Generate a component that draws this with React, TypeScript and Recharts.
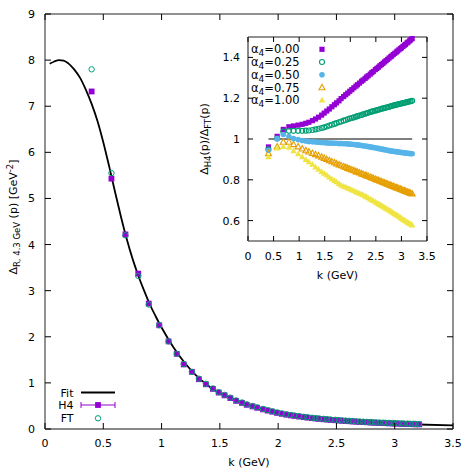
import { ComposedChart, Line, Scatter, XAxis, YAxis, ReferenceArea, ReferenceLine } from "recharts";

// lattice momenta (GeV)
const kValues = [
  0.40, 0.57, 0.69, 0.80, 0.89, 0.98, 1.06, 1.13, 1.19, 1.26,
  1.32, 1.38, 1.44, 1.49, 1.54, 1.59, 1.64, 1.69, 1.73, 1.78,
  1.82, 1.87, 1.91, 1.95, 1.99, 2.03, 2.07, 2.11, 2.14, 2.18,
  2.22, 2.25, 2.29, 2.32, 2.35, 2.39, 2.42, 2.45, 2.49, 2.52,
  2.55, 2.58, 2.61, 2.64, 2.67, 2.70, 2.73, 2.76, 2.79, 2.81,
  2.84, 2.87, 2.90, 2.92, 2.95, 2.98, 3.00, 3.03, 3.06, 3.08,
  3.11, 3.13, 3.16, 3.18, 3.21,
];

const h4Values = [
  7.32, 5.43, 4.22, 3.37, 2.72, 2.25, 1.90, 1.63, 1.40, 1.24,
  1.08, 0.97, 0.87, 0.79, 0.73, 0.67, 0.61, 0.565, 0.525, 0.49,
  0.46, 0.425, 0.40, 0.375, 0.35, 0.33, 0.31, 0.295, 0.283, 0.27,
  0.257, 0.247, 0.236, 0.228, 0.22, 0.211, 0.204, 0.197, 0.19, 0.184,
  0.178, 0.173, 0.168, 0.163, 0.158, 0.154, 0.15, 0.146, 0.142, 0.139,
  0.135, 0.132, 0.129, 0.126, 0.123, 0.12, 0.118, 0.115, 0.112, 0.11,
  0.108, 0.106, 0.104, 0.102, 0.10,
];

const ftValues = [
  7.80, 5.55, 4.20, 3.32, 2.70, 2.25, 1.90, 1.63, 1.41, 1.24,
  1.09, 0.98, 0.88, 0.80, 0.74, 0.68, 0.62, 0.575, 0.535, 0.50,
  0.47, 0.435, 0.41, 0.385, 0.36, 0.34, 0.32, 0.305, 0.292, 0.279,
  0.266, 0.256, 0.245, 0.237, 0.229, 0.22, 0.213, 0.206, 0.199, 0.193,
  0.187, 0.182, 0.177, 0.172, 0.167, 0.163, 0.159, 0.155, 0.151, 0.148,
  0.144, 0.141, 0.138, 0.135, 0.132, 0.129, 0.127, 0.124, 0.121, 0.119,
  0.117, 0.115, 0.113, 0.111, 0.109,
];

const fitK = [
  0.04, 0.08, 0.12, 0.16, 0.20, 0.25, 0.30, 0.35, 0.40, 0.45, 0.50, 0.55,
  0.60, 0.65, 0.70, 0.75, 0.80, 0.85, 0.90, 0.95, 1.00, 1.10, 1.20, 1.30,
  1.40, 1.50, 1.60, 1.80, 2.00, 2.20, 2.40, 2.60, 2.80, 3.00, 3.20, 3.50,
];
const fitValues = [
  7.92, 7.97, 8.00, 7.99, 7.93, 7.80, 7.62, 7.36, 7.05, 6.68, 6.22, 5.70,
  5.15, 4.62, 4.13, 3.70, 3.33, 3.00, 2.70, 2.44, 2.20, 1.78, 1.43, 1.15,
  0.94, 0.78, 0.655, 0.475, 0.35, 0.265, 0.21, 0.17, 0.14, 0.115, 0.098, 0.078,
];

// ratio Delta_H4 / Delta_FT for alpha_4 = 0.00 ... 1.00
const ratioA000 = [
  0.961, 1.013, 1.047, 1.060, 1.064, 1.068, 1.072, 1.077, 1.082, 1.090,
  1.098, 1.107, 1.117, 1.127, 1.137, 1.147, 1.158, 1.168, 1.177, 1.187,
  1.198, 1.208, 1.217, 1.225, 1.234, 1.242, 1.251, 1.259, 1.266, 1.274,
  1.283, 1.289, 1.297, 1.304, 1.310, 1.318, 1.325, 1.331, 1.340, 1.346,
  1.352, 1.359, 1.365, 1.371, 1.378, 1.384, 1.390, 1.397, 1.403, 1.407,
  1.414, 1.420, 1.426, 1.431, 1.437, 1.443, 1.447, 1.454, 1.460, 1.464,
  1.471, 1.475, 1.481, 1.486, 1.492,
];
const ratioA025 = [
  0.950, 1.002, 1.036, 1.040, 1.040, 1.040, 1.040, 1.041, 1.042, 1.044,
  1.047, 1.050, 1.054, 1.057, 1.061, 1.066, 1.070, 1.074, 1.078, 1.082,
  1.086, 1.090, 1.093, 1.097, 1.100, 1.103, 1.106, 1.109, 1.112, 1.115,
  1.118, 1.121, 1.124, 1.126, 1.129, 1.132, 1.134, 1.137, 1.139, 1.141,
  1.143, 1.146, 1.148, 1.150, 1.152, 1.154, 1.156, 1.158, 1.160, 1.162,
  1.164, 1.166, 1.168, 1.169, 1.171, 1.173, 1.174, 1.176, 1.178, 1.179,
  1.181, 1.182, 1.184, 1.185, 1.187,
];
const ratioA050 = [
  0.945, 1.002, 1.022, 1.012, 1.002, 0.997, 0.993, 0.990, 0.988, 0.986,
  0.985, 0.984, 0.983, 0.982, 0.981, 0.980, 0.980, 0.979, 0.979, 0.978,
  0.978, 0.977, 0.977, 0.976, 0.975, 0.974, 0.973, 0.972, 0.971, 0.970,
  0.968, 0.967, 0.966, 0.964, 0.963, 0.961, 0.960, 0.958, 0.957, 0.955,
  0.954, 0.952, 0.951, 0.949, 0.948, 0.946, 0.945, 0.943, 0.942, 0.941,
  0.940, 0.939, 0.938, 0.937, 0.936, 0.935, 0.934, 0.933, 0.932, 0.931,
  0.930, 0.930, 0.929, 0.929, 0.928,
];
const ratioA075 = [
  0.929, 0.962, 0.985, 0.985, 0.973, 0.962, 0.952, 0.943, 0.937, 0.930,
  0.924, 0.918, 0.912, 0.906, 0.900, 0.894, 0.889, 0.884, 0.879, 0.874,
  0.870, 0.865, 0.861, 0.857, 0.853, 0.849, 0.845, 0.841, 0.838, 0.834,
  0.830, 0.827, 0.823, 0.820, 0.817, 0.813, 0.810, 0.807, 0.803, 0.800,
  0.797, 0.794, 0.791, 0.788, 0.785, 0.782, 0.779, 0.776, 0.773, 0.771,
  0.768, 0.765, 0.762, 0.760, 0.757, 0.754, 0.752, 0.749, 0.746, 0.744,
  0.741, 0.739, 0.736, 0.734, 0.731,
];
const ratioA100 = [
  0.912, 0.955, 0.962, 0.958, 0.942, 0.927, 0.912, 0.898, 0.887, 0.875,
  0.862, 0.851, 0.840, 0.831, 0.822, 0.813, 0.804, 0.796, 0.789, 0.781,
  0.774, 0.768, 0.764, 0.759, 0.755, 0.750, 0.746, 0.741, 0.738, 0.733,
  0.729, 0.726, 0.720, 0.716, 0.711, 0.705, 0.701, 0.697, 0.691, 0.686,
  0.682, 0.678, 0.673, 0.669, 0.664, 0.660, 0.655, 0.651, 0.646, 0.643,
  0.638, 0.633, 0.628, 0.625, 0.620, 0.615, 0.611, 0.606, 0.601, 0.598,
  0.593, 0.590, 0.585, 0.582, 0.577,
];

const mainXTicks = [0, 0.5, 1, 1.5, 2, 2.5, 3, 3.5];
const mainYTicks = [0, 1, 2, 3, 4, 5, 6, 7, 8, 9];
const insetYTicks = [0.6, 0.8, 1, 1.2, 1.4];
const alphaLabels = ["0.00", "0.25", "0.50", "0.75", "1.00"];

const PURPLE = "#9400d3";
const GREEN = "#009e73";
const BLUE = "#56b4e9";
const ORANGE = "#e69f00";
const YELLOW = "#f0e442";
const FONT = "'DejaVu Sans', sans-serif";

const MAIN = { left: 45, right: 453, top: 14, bottom: 429 };
const INSET = { left: 248, right: 427, top: 37, bottom: 241 };

const pairs = (ys: number[], xs = kValues) => xs.map((k, i) => ({ k, v: ys[i] }));
const fitData = pairs(fitValues, fitK);
const h4Data = pairs(h4Values);
const ftData = pairs(ftValues);
const ratioSeries = [ratioA000, ratioA025, ratioA050, ratioA075, ratioA100].map((r) => pairs(r));

// markers
const Square = ({ cx, cy, size, color }: any) => (
  <rect x={cx - size / 2} y={cy - size / 2} width={size} height={size} fill={color} />
);
const Tri = ({ cx, cy, size, color, open }: any) => {
  const h = size * 0.9;
  const d = `M${cx},${cy - h * 0.6} L${cx + size / 2},${cy + h * 0.4} L${cx - size / 2},${cy + h * 0.4} Z`;
  return open ? <path d={d} fill="none" stroke={color} strokeWidth={1.1} /> : <path d={d} fill={color} />;
};

const markers = [
  (p: any) => <Square cx={p.cx} cy={p.cy} size={5.2} color={PURPLE} />,
  (p: any) => <circle cx={p.cx} cy={p.cy} r={2.5} fill="none" stroke={GREEN} strokeWidth={1.1} />,
  (p: any) => <circle cx={p.cx} cy={p.cy} r={2.8} fill={BLUE} />,
  (p: any) => <Tri cx={p.cx} cy={p.cy} size={6} color={ORANGE} open />,
  (p: any) => <Tri cx={p.cx} cy={p.cy} size={6.4} color={YELLOW} />,
];

const txt = { fontSize: 11, fontFamily: FONT, fill: "#000" };

function MainXTick({ x, payload }: any) {
  return (
    <g>
      <line x1={x} x2={x} y1={MAIN.bottom} y2={MAIN.bottom - 6} stroke="#000" />
      <line x1={x} x2={x} y1={MAIN.top} y2={MAIN.top + 6} stroke="#000" />
      <text x={x} y={MAIN.bottom + 18} textAnchor="middle" {...txt}>{payload.value}</text>
    </g>
  );
}
function MainYTick({ y, payload }: any) {
  return (
    <g>
      <line x1={MAIN.left} x2={MAIN.left + 6} y1={y} y2={y} stroke="#000" />
      <line x1={MAIN.right} x2={MAIN.right - 6} y1={y} y2={y} stroke="#000" />
      <text x={MAIN.left - 10} y={y + 4} textAnchor="end" {...txt}>{payload.value}</text>
    </g>
  );
}
function InsetXTick({ x, payload }: any) {
  return (
    <g>
      <line x1={x} x2={x} y1={INSET.bottom} y2={INSET.bottom - 5} stroke="#000" />
      <line x1={x} x2={x} y1={INSET.top} y2={INSET.top + 5} stroke="#000" />
      <text x={x} y={INSET.bottom + 18.5} textAnchor="middle" {...txt}>{payload.value}</text>
    </g>
  );
}
function InsetYTick({ y, payload }: any) {
  return (
    <g>
      <line x1={INSET.left} x2={INSET.left + 5} y1={y} y2={y} stroke="#000" />
      <line x1={INSET.right} x2={INSET.right - 5} y1={y} y2={y} stroke="#000" />
      <text x={INSET.left - 8} y={y + 4} textAnchor="end" {...txt}>{payload.value}</text>
    </g>
  );
}

export default function App() {
  return (
    <div style={{ position: "absolute", left: 0, top: 0, width: 472, height: 472, background: "#fff" }}>
      <div style={{ position: "absolute", left: 0, top: 0 }}>
        <ComposedChart width={472} height={472} margin={{ top: MAIN.top, right: 472 - MAIN.right, bottom: 0, left: 0 }}>
          <XAxis dataKey="k" type="number" domain={[0, 3.5]} ticks={mainXTicks} interval={0}
            axisLine={false} tickLine={false} height={472 - MAIN.bottom} tick={<MainXTick />} />
          <YAxis type="number" domain={[0, 9]} ticks={mainYTicks} interval={0}
            axisLine={false} tickLine={false} width={MAIN.left} tick={<MainYTick />} />
          <ReferenceArea x1={0} x2={3.5} y1={0} y2={9} fill="none" fillOpacity={0} stroke="#222" strokeWidth={1} />
          <ReferenceLine y={0} stroke="#888" strokeWidth={2} />
          <Line data={fitData} dataKey="v" type="monotone" stroke="#000" strokeWidth={1.8} dot={false} isAnimationActive={false} />
          <Scatter data={h4Data} dataKey="v" isAnimationActive={false}
            shape={(p: any) => <Square cx={p.cx} cy={p.cy} size={5.8} color={PURPLE} />} />
          <Scatter data={ftData} dataKey="v" isAnimationActive={false}
            shape={(p: any) => <circle cx={p.cx} cy={p.cy} r={2.7} fill="none" stroke={GREEN} strokeWidth={1} />} />
        </ComposedChart>
      </div>

      <div style={{ position: "absolute", left: 0, top: 0 }}>
        <ComposedChart width={440} height={285} margin={{ top: INSET.top, right: 440 - INSET.right, bottom: 0, left: 0 }}>
          <XAxis dataKey="k" type="number" domain={[0, 3.5]} ticks={mainXTicks} interval={0}
            axisLine={false} tickLine={false} height={285 - INSET.bottom} tick={<InsetXTick />} />
          <YAxis type="number" domain={[0.5, 1.5]} ticks={insetYTicks} interval={0}
            axisLine={false} tickLine={false} width={INSET.left} tick={<InsetYTick />} />
          <ReferenceArea x1={0} x2={3.5} y1={0.5} y2={1.5} fill="#fff" fillOpacity={0} stroke="#222" strokeWidth={1} />
          <ReferenceLine x={0} stroke="#888" strokeWidth={2} />
          <ReferenceLine segment={[{ x: kValues[0], y: 1 }, { x: kValues[kValues.length - 1], y: 1 }]} stroke="#000" strokeWidth={1} />
          {ratioSeries.map((d, i) => (
            <Scatter key={i} data={d} dataKey="v" isAnimationActive={false} shape={markers[i]} />
          ))}
        </ComposedChart>
      </div>

      <svg width={472} height={472} style={{ position: "absolute", left: 0, top: 0, pointerEvents: "none" }}>
        {/* main axis titles */}
        <text x={MAIN.left + (MAIN.right - MAIN.left) / 2} y={466} textAnchor="middle" {...txt}>k (GeV)</text>
        <text transform="translate(17,217) rotate(-90)" textAnchor="middle" {...txt}>
          Δ<tspan fontSize={8.5} dy={3}>R, 4.3 GeV</tspan>
          <tspan dy={-3}> (p) [GeV</tspan>
          <tspan fontSize={8.5} dy={-4}>-2</tspan>
          <tspan dy={4}>]</tspan>
        </text>

        {/* inset axis titles */}
        <text x={(INSET.left + INSET.right) / 2} y={279} textAnchor="middle" {...txt}>k (GeV)</text>
        <text transform="translate(208,139) rotate(-90)" textAnchor="middle" {...txt}>
          Δ<tspan fontSize={8.5} dy={3}>H4</tspan>
          <tspan dy={-3}>(p)/Δ</tspan>
          <tspan fontSize={8.5} dy={3}>FT</tspan>
          <tspan dy={-3}>(p)</tspan>
        </text>

        {/* main legend */}
        <text x={73.5} y={396.5} textAnchor="end" {...txt}>Fit</text>
        <line x1={81} x2={115} y1={392.5} y2={392.5} stroke="#000" strokeWidth={1.8} />
        <text x={73.5} y={409} textAnchor="end" {...txt}>H4</text>
        <line x1={81} x2={115} y1={405} y2={405} stroke={PURPLE} strokeWidth={1} />
        <line x1={81} x2={81} y1={402} y2={408} stroke={PURPLE} strokeWidth={1} />
        <line x1={115} x2={115} y1={402} y2={408} stroke={PURPLE} strokeWidth={1} />
        <Square cx={98} cy={405} size={5.8} color={PURPLE} />
        <text x={73.5} y={422.3} textAnchor="end" {...txt}>FT</text>
        <circle cx={98} cy={418.3} r={2.7} fill="none" stroke={GREEN} strokeWidth={1} />

        {/* inset legend */}
        {alphaLabels.map((a, i) => {
          const cy = 49.3 + i * 12.75;
          return (
            <g key={a}>
              <text x={251} y={cy + 4} {...txt} fontSize={11.5}>
                α<tspan fontSize={9} dy={3}>4</tspan><tspan dy={-3}>={a}</tspan>
              </text>
              {markers[i]({ cx: 322, cy })}
            </g>
          );
        })}
      </svg>
    </div>
  );
}
